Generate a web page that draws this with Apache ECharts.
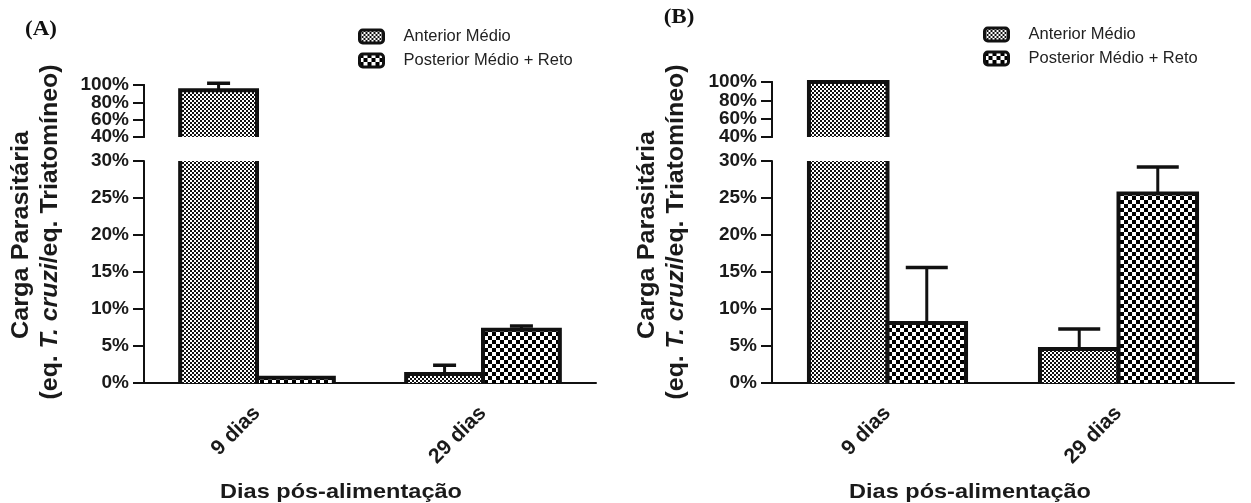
<!DOCTYPE html>
<html>
<head>
<meta charset="utf-8">
<script src="https://cdn.jsdelivr.net/npm/echarts@6/dist/echarts.min.js"></script>
<style>
  html, body { margin: 0; padding: 0; background: #fff; }
  #chart { width: 1251px; height: 503px; }
</style>
</head>
<body>
<div id="chart"></div>
<script>
// ---------------- DATA ----------------
const categories = ['9 dias', '29 dias'];
const seriesNames = ['Anterior Médio', 'Posterior Médio + Reto'];

// Panel A (percent)
const aAnterior = [94, 1.2];
const aAnteriorErr = [8, 1.2];
const aPosterior = [0.7, 7.2];
const aPosteriorErr = [0, 0.5];

// Panel B (percent)
const bAnterior = [100, 4.6];
const bAnteriorErr = [0, 2.7];
const bPosterior = [8.1, 25.6];
const bPosteriorErr = [7.5, 3.6];

// axis segments (broken axis)
const upperMin = 40, upperMax = 100, upperStep = 20;   // ticks 40, 60, 80, 100
const upperEndStep = 60;                               // end ticks 40, 100
const lowerMin = 0, lowerMax = 30, lowerStep = 5;      // ticks 0 .. 30

// ---------------- PATTERNS ----------------
function makeChecker(cell, dark, light) {
  const c = document.createElement('canvas');
  c.width = cell * 2; c.height = cell * 2;
  const ctx = c.getContext('2d');
  ctx.fillStyle = light; ctx.fillRect(0, 0, cell * 2, cell * 2);
  ctx.fillStyle = dark;
  ctx.fillRect(0, 0, cell, cell);
  ctx.fillRect(cell, cell, cell, cell);
  return c;
}
const finePattern = { image: makeChecker(2, '#111', '#ffffff'), repeat: 'repeat' };
const coarsePattern = { image: makeChecker(4, '#000', '#ffffff'), repeat: 'repeat' };

const FONT = 'Liberation Sans, Arial, sans-serif';
const BAR_FRAC = 0.34;
const BORDER = 4;

function toData(vals, errs) {
  return vals.map((v, i) => [i, v, errs[i]]);
}

function makeRender(side, pattern, capW, segMin, segMax) {
  return function (params, api) {
    const cat = api.value(0), v = api.value(1), e = api.value(2);
    if (v <= segMin) return null;
    const catW = api.size([1, 0])[0];
    const bw = catW * BAR_FRAC;
    const basePt = api.coord([cat, segMin]);
    const cx = basePt[0];
    const x0 = side < 0 ? cx - bw : cx;
    const x1 = x0 + bw;
    const vis = Math.min(v, segMax);
    const top = api.coord([cat, vis])[1];
    const bottom = basePt[1];
    const children = [];
    children.push({
      type: 'rect',
      shape: { x: x0, y: top, width: bw, height: bottom - top },
      style: { fill: pattern, stroke: null }
    });
    if (v <= segMax) {
      children.push({
        type: 'polyline',
        shape: { points: [[x0, bottom], [x0, top], [x1, top], [x1, bottom]] },
        style: { stroke: '#111', lineWidth: BORDER, fill: null, lineJoin: 'miter' }
      });
      if (e > 0) {
        const ey = api.coord([cat, v + e])[1];
        const mx = (x0 + x1) / 2;
        children.push({
          type: 'line',
          shape: { x1: mx, y1: top, x2: mx, y2: ey },
          style: { stroke: '#111', lineWidth: 3 }
        });
        children.push({
          type: 'line',
          shape: { x1: mx - capW / 2, y1: ey, x2: mx + capW / 2, y2: ey },
          style: { stroke: '#111', lineWidth: 3.5 }
        });
      }
    } else {
      children.push({
        type: 'line', shape: { x1: x0, y1: bottom, x2: x0, y2: top },
        style: { stroke: '#111', lineWidth: BORDER }
      });
      children.push({
        type: 'line', shape: { x1: x1, y1: bottom, x2: x1, y2: top },
        style: { stroke: '#111', lineWidth: BORDER }
      });
    }
    return { type: 'group', children: children };
  };
}

// ---------------- LAYOUT ----------------
const panels = [
  { left: 144, width: 452, upTop: 85, upH: 52, lowTop: 161, lowH: 222, cap: 23,
    ant: [aAnterior, aAnteriorErr], post: [aPosterior, aPosteriorErr] },
  { left: 772, width: 462, upTop: 82, upH: 55, lowTop: 161, lowH: 222, cap: 42,
    ant: [bAnterior, bAnteriorErr], post: [bPosterior, bPosteriorErr] }
];

const grid = [], xAxis = [], yAxis = [], series = [];
const axisLabelStyle = { fontFamily: FONT, fontWeight: 'bold', fontSize: 19, color: '#1a1a1a' };

function yAxisDef(gridIndex, min, max, step, labelOpts) {
  return {
    type: 'value', gridIndex: gridIndex, position: 'left', offset: 0,
    min: min, max: max, interval: step,
    axisLine: { show: true, onZero: false, lineStyle: { color: '#111', width: 2 } },
    axisTick: { show: true, length: 11, lineStyle: { color: '#111', width: 2 } },
    splitLine: { show: false },
    axisLabel: Object.assign({ formatter: '{value}%', margin: 15 }, axisLabelStyle, labelOpts || {})
  };
}

panels.forEach((p, pi) => {
  const gu = grid.length;
  grid.push({ left: p.left, top: p.upTop, width: p.width, height: p.upH, outerBoundsMode: 'none', containLabel: false });
  const gl = grid.length;
  grid.push({ left: p.left, top: p.lowTop, width: p.width, height: p.lowH, outerBoundsMode: 'none', containLabel: false });

  const xu = xAxis.length;
  xAxis.push({ type: 'category', data: categories, gridIndex: gu, show: false });
  const xl = xAxis.length;
  xAxis.push({
    type: 'category', data: categories, gridIndex: gl,
    axisLine: { lineStyle: { color: '#111', width: 2 } },
    axisTick: { alignWithLabel: true, length: 10, lineStyle: { color: '#111', width: 2 } },
    axisLabel: Object.assign({ rotate: 45, margin: 27, interval: 0 }, axisLabelStyle, { fontSize: 21 })
  });

  const yu = yAxis.length;
  // upper segment: inner ticks/labels (60%, 80%)
  yAxis.push(yAxisDef(gu, upperMin, upperMax, upperStep, { showMinLabel: false, showMaxLabel: false }));
  const yl = yAxis.length;
  yAxis.push(yAxisDef(gl, lowerMin, lowerMax, lowerStep, { showMinLabel: true, showMaxLabel: true }));
  // upper segment: end ticks/labels (40%, 100%)
  yAxis.push(yAxisDef(gu, upperMin, upperMax, upperEndStep, { showMinLabel: true, showMaxLabel: true }));

  [[xu, yu, upperMin, upperMax], [xl, yl, lowerMin, lowerMax]].forEach(([xi, yi, mn, mx]) => {
    series.push({
      type: 'custom', name: seriesNames[0], xAxisIndex: xi, yAxisIndex: yi,
      itemStyle: { color: finePattern },
      renderItem: makeRender(-1, finePattern, p.cap, mn, mx),
      encode: { x: 0, y: 1 },
      data: toData(p.ant[0], p.ant[1]), silent: true
    });
    series.push({
      type: 'custom', name: seriesNames[1], xAxisIndex: xi, yAxisIndex: yi,
      itemStyle: { color: coarsePattern },
      renderItem: makeRender(1, coarsePattern, p.cap, mn, mx),
      encode: { x: 0, y: 1 },
      data: toData(p.post[0], p.post[1]), silent: true
    });
  });
});

function legendAt(left, top) {
  return {
    orient: 'vertical', left: left, top: top, selectedMode: false, padding: 0,
    icon: 'roundRect', itemWidth: 24, itemHeight: 13, itemGap: 7,
    itemStyle: { borderColor: '#111', borderWidth: 3 },
    textStyle: { fontFamily: FONT, fontSize: 16.5, color: '#222', padding: [0, 0, 0, 15] },
    data: seriesNames
  };
}

function yTitle(x, y) {
  return [
    { type: 'text', x: x, y: y, rotation: Math.PI / 2, scaleX: 1.1,
      style: { text: 'Carga Parasitária', fontFamily: FONT, fontWeight: 'bold', fontSize: 23,
               fill: '#1a1a1a', align: 'center', verticalAlign: 'middle' } },
    { type: 'text', x: x + 29, y: y - 3, rotation: Math.PI / 2, scaleX: 1.08,
      style: {
        text: '{n|(eq. }{i|T. cruzi}{n|/eq. Triatomíneo)}',
        align: 'center', verticalAlign: 'middle',
        rich: {
          n: { fontFamily: FONT, fontWeight: 'bold', fontSize: 23, fill: '#1a1a1a' },
          i: { fontFamily: FONT, fontWeight: 'bold', fontStyle: 'italic', fontSize: 23, fill: '#1a1a1a' }
        }
      } }
  ];
}

function xTitle(x, y) {
  return { type: 'text', x: x, y: y, scaleX: 1.12,
    style: { text: 'Dias pós-alimentação', fontFamily: FONT, fontWeight: 'bold', fontSize: 21,
             fill: '#1a1a1a', align: 'center', verticalAlign: 'middle' } };
}

function panelLabel(text, x, y) {
  return { type: 'text', x: x, y: y, scaleX: 1.15,
    style: { text: text, fontFamily: 'Liberation Serif, Times New Roman, serif', fontWeight: 'bold',
             fontSize: 20, fill: '#111', align: 'center', verticalAlign: 'middle' } };
}

const graphic = [].concat(
  yTitle(22, 235),
  yTitle(648, 235),
  [xTitle(341, 492), xTitle(970, 492),
   panelLabel('(A)', 41, 30), panelLabel('(B)', 679, 18)]
);

const chart = echarts.init(document.getElementById('chart'), null, { renderer: 'canvas' });
chart.setOption({
  animation: false,
  backgroundColor: '#ffffff',
  grid: grid, xAxis: xAxis, yAxis: yAxis, series: series,
  legend: [legendAt(358, 28), legendAt(983, 26)],
  graphic: graphic
});
</script>
</body>
</html>
